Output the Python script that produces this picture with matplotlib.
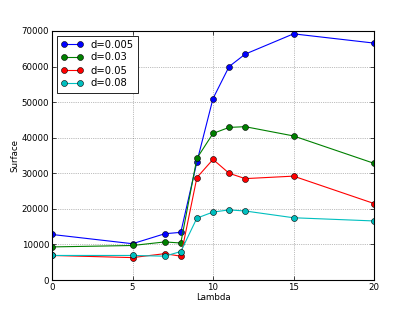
import matplotlib
matplotlib.use("Agg")
import matplotlib.pyplot as plt

lambdas = [0, 5, 7, 8, 9, 10, 11, 12, 15, 20]
labels = ["d=0.005", "d=0.03", "d=0.05", "d=0.08"]
d0005 = [12800, 10200, 13000, 13400, 33200, 51000, 60000, 63500, 69200, 66600]
d003 = [9300, 9700, 10700, 10400, 34200, 41200, 42900, 43100, 40500, 32800]
d005 = [6900, 6300, 7400, 6700, 28800, 33900, 30000, 28500, 29200, 21500]
d008 = [6900, 6900, 6700, 8000, 17400, 19100, 19700, 19400, 17500, 16600]
colors = ["#0000ff", "#008000", "#ff0000", "#00bfbf"]

fig = plt.figure(figsize=(4.15, 3.12), dpi=100)
ax = fig.add_axes([52/415, 1-280/312, 322/415, 249/312])
for ys, lab, c in zip([d0005, d003, d005, d008], labels, colors):
    ax.plot(lambdas, ys, '-o', color=c, label=lab, lw=0.8, ms=4.3,
            markeredgecolor='k', markeredgewidth=0.4, alpha=1)
ax.set_xlim(0, 20)
ax.set_ylim(0, 70000)
ax.set_xticks([0, 5, 10, 15, 20])
ax.set_yticks(range(0, 70001, 10000))
ax.grid(True, linestyle=':', color='k', lw=0.5, alpha=0.5)
ax.tick_params(labelsize=6.2, direction='in', length=3, width=0.5, top=True, right=True, pad=2)
ax.set_xlabel("Lambda", fontsize=6.2, labelpad=1)
ax.set_ylabel("Surface", fontsize=6.2, labelpad=2)
for s in ax.spines.values():
    s.set_linewidth(0.8)
leg = ax.legend(loc='upper left', fontsize=7.2, numpoints=2, fancybox=False,
                framealpha=1, edgecolor='k', handlelength=2.2, borderpad=0.4,
                labelspacing=0.3, borderaxespad=0.45)
leg.get_frame().set_linewidth(0.6)
fig.savefig("out.png", dpi=100)
